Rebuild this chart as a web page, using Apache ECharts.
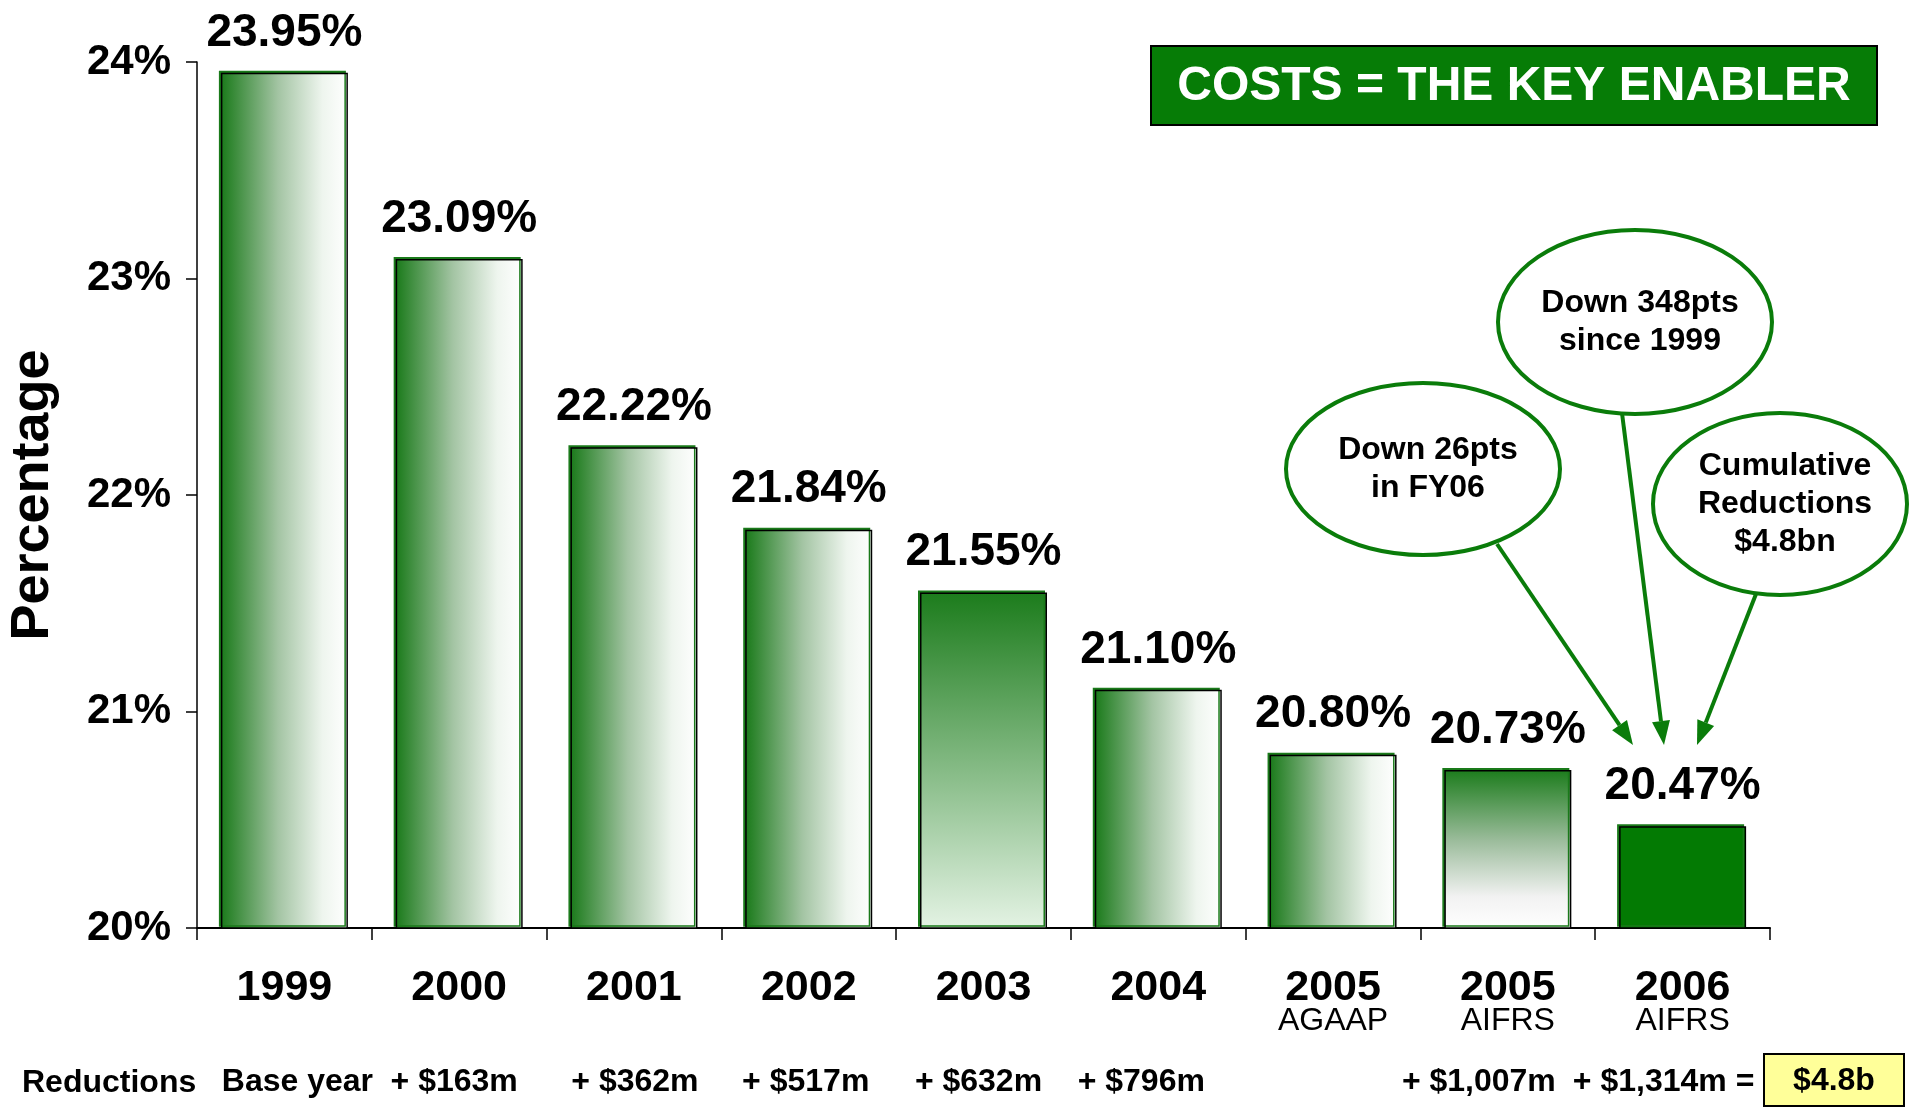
<!DOCTYPE html>
<html>
<head>
<meta charset="utf-8">
<script src="https://cdn.jsdelivr.net/npm/echarts@6/dist/echarts.min.js"></script>
<style>
  html, body { margin: 0; padding: 0; background: #fff; }
  #chart { width: 1910px; height: 1112px; }
</style>
</head>
<body>
<div id="chart"></div>
<script>
// data
const years = ['1999', '2000', '2001', '2002', '2003', '2004', '2005', '2005', '2006'];
const standards = ['', '', '', '', '', '', 'AGAAP', 'AIFRS', 'AIFRS'];
const costRatio = [23.95, 23.09, 22.22, 21.84, 21.55, 21.10, 20.80, 20.73, 20.47];
const reductions = ['Base year', '+ $163m', '+ $362m', '+ $517m', '+ $632m', '+ $796m', '', '+ $1,007m', '+ $1,314m ='];
const fillKind = ['side', 'side', 'side', 'side', 'down', 'side', 'side', 'fade', 'solid'];
const callouts = [
  { text: 'Down 26pts\nin FY06' },
  { text: 'Down 348pts\nsince 1999' },
  { text: 'Cumulative\nReductions\n$4.8bn' }
];
const totalSaved = '$4.8b';

const FONT = '"Liberation Sans", Arial, sans-serif';
const GREEN = '#0a7c0a';
// small horizontal nudges of the reductions row (px), the slide is hand placed
const rowNudge = [13, -5, 1, -3, -5, -17, 0, -29, -19];

const categories = years.map((y, i) => standards[i] ? y + '\n' + standards[i] : y);

function barFill(kind) {
  if (kind === 'solid') return '#037a03';
  if (kind === 'down') {
    return new echarts.graphic.LinearGradient(0, 0, 0, 1, [
      { offset: 0, color: '#1c7c1c' },
      { offset: 1, color: '#e4f3e4' }
    ]);
  }
  if (kind === 'fade') {
    return new echarts.graphic.LinearGradient(0, 0, 0, 1, [
      { offset: 0, color: '#1c7c1c' },
      { offset: 0.45, color: '#9dbd9d' },
      { offset: 0.8, color: '#f2f2f2' },
      { offset: 1, color: '#ffffff' }
    ]);
  }
  return new echarts.graphic.LinearGradient(0, 0, 1, 0, [
    { offset: 0, color: '#1a7a1a' },
    { offset: 0.45, color: '#a3c4a3' },
    { offset: 0.8, color: '#eef5ee' },
    { offset: 1, color: '#ffffff' }
  ]);
}

const seriesData = costRatio.map((v, i) => ({
  value: v,
  itemStyle: {
    color: barFill(fillKind[i]),
    borderColor: '#000',
    borderWidth: 1.5,
    shadowColor: '#1a7a1a',
    shadowOffsetX: -2,
    shadowOffsetY: -2
  }
}));

const rowRich = {};
rowNudge.forEach((n, i) => {
  rowRich['r' + i] = {
    fontFamily: FONT, fontWeight: 'bold', fontSize: 32, color: '#000',
    padding: n >= 0 ? [0, 0, 0, 2 * n] : [0, -2 * n, 0, 0]
  };
});

// arrow from (x1,y1) to tip (x2,y2)
function arrow(x1, y1, x2, y2) {
  const a = Math.atan2(y2 - y1, x2 - x1);
  const len = 24, half = 9;
  const bx = x2 - len * Math.cos(a), by = y2 - len * Math.sin(a);
  return [
    {
      type: 'line',
      shape: { x1: x1, y1: y1, x2: bx, y2: by },
      style: { stroke: GREEN, lineWidth: 4 }
    },
    {
      type: 'polygon',
      shape: {
        points: [
          [x2, y2],
          [bx + half * Math.sin(a), by - half * Math.cos(a)],
          [bx - half * Math.sin(a), by + half * Math.cos(a)]
        ]
      },
      style: { fill: GREEN }
    }
  ];
}

function bubble(cx, cy, rx, ry, text, lh) {
  return [
    {
      type: 'ellipse',
      shape: { cx: cx, cy: cy, rx: rx, ry: ry },
      style: { fill: '#fff', stroke: GREEN, lineWidth: 4 },
      z: 10
    },
    {
      type: 'text',
      x: cx + 5, y: cy,
      style: {
        text: text, fill: '#000', font: 'bold 32px ' + FONT,
        align: 'center', verticalAlign: 'middle', lineHeight: lh
      },
      z: 11
    }
  ];
}

const chart = echarts.init(document.getElementById('chart'));

chart.setOption({
  backgroundColor: '#fff',
  animation: false,
  grid: { left: 197, right: 140, top: 62, bottom: 184, containLabel: false, outerBoundsMode: 'none' },
  xAxis: [
    {
      type: 'category',
      data: categories,
      axisLine: { lineStyle: { color: '#000', width: 2 } },
      axisTick: { show: true, length: 12, lineStyle: { color: '#000', width: 1.5 } },
      axisLabel: {
        interval: 0,
        margin: 42,
        formatter: (val) => {
          const p = val.split('\n');
          return p.length > 1 ? '{y|' + p[0] + '}\n{s|' + p[1] + '}' : '{y|' + p[0] + '}';
        },
        rich: {
          y: { fontFamily: FONT, fontWeight: 'bold', fontSize: 43, lineHeight: 37, color: '#000' },
          s: { fontFamily: FONT, fontSize: 32, lineHeight: 29, color: '#000' }
        }
      }
    },
    {
      type: 'category',
      position: 'bottom',
      offset: 124,
      data: reductions,
      axisLine: { show: false },
      axisTick: { show: false },
      axisLabel: {
        interval: 0,
        margin: 14,
        formatter: (val, idx) => '{r' + idx + '|' + val + '}',
        rich: rowRich
      }
    }
  ],
  yAxis: {
    type: 'value',
    min: 20,
    max: 24,
    interval: 1,
    name: 'Percentage',
    nameLocation: 'middle',
    nameRotate: 90,
    nameGap: 137,
    nameTextStyle: { fontFamily: FONT, fontWeight: 'bold', fontSize: 54, color: '#000' },
    splitLine: { show: false },
    axisLine: { show: true, lineStyle: { color: '#000', width: 1.5 } },
    axisTick: { show: true, length: 11, lineStyle: { color: '#000', width: 1.5 } },
    axisLabel: {
      margin: 26,
      color: '#000',
      fontFamily: FONT,
      fontWeight: 'bold',
      fontSize: 42,
      formatter: '{value}%'
    }
  },
  series: [
    {
      type: 'bar',
      data: seriesData,
      barWidth: 127,
      label: {
        show: true,
        position: 'top',
        distance: 17,
        color: '#000',
        fontFamily: FONT,
        fontWeight: 'bold',
        fontSize: 46,
        formatter: (p) => p.value.toFixed(2) + '%'
      }
    }
  ],
  graphic: [
    // headline box
    {
      type: 'rect',
      shape: { x: 1151, y: 46, width: 726, height: 79 },
      style: { fill: '#067c06', stroke: '#000', lineWidth: 2 }
    },
    {
      type: 'text',
      x: 1514, y: 87,
      style: {
        text: 'COSTS = THE KEY ENABLER', fill: '#fff', font: 'bold 48px ' + FONT,
        align: 'center', verticalAlign: 'middle'
      }
    },
    // reductions row
    {
      type: 'text',
      x: 22, y: 1083,
      style: { text: 'Reductions', fill: '#000', font: 'bold 32px ' + FONT, verticalAlign: 'middle' }
    },
    {
      type: 'rect',
      shape: { x: 1764, y: 1054, width: 140, height: 52 },
      style: { fill: '#ffff99', stroke: '#000', lineWidth: 2 }
    },
    {
      type: 'text',
      x: 1834, y: 1081,
      style: { text: totalSaved, fill: '#000', font: 'bold 32px ' + FONT, align: 'center', verticalAlign: 'middle' }
    },
    // callouts
    ...arrow(1497, 544, 1633, 745),
    ...arrow(1622, 413, 1664, 745),
    ...arrow(1756, 594, 1697, 745),
    ...bubble(1423, 469, 137, 86, callouts[0].text, 38),
    ...bubble(1635, 322, 137, 92, callouts[1].text, 38),
    ...bubble(1780, 504, 127, 91, callouts[2].text, 38)
  ]
});
</script>
</body>
</html>
